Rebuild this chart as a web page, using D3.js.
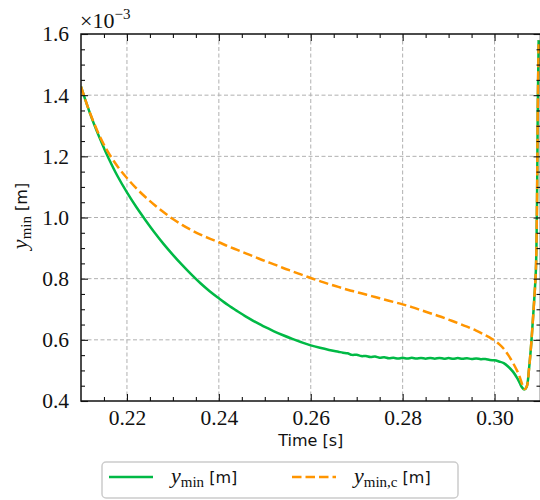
<!DOCTYPE html>
<html>
<head>
<meta charset="utf-8">
<script src="https://cdn.jsdelivr.net/npm/d3@7"></script>
<style>
  body { margin: 0; background: #fff; }
</style>
</head>
<body>
<div id="chart"></div>
<script>
// y_min curve: time [s] and value [x1e-3 m]
const tMin = [0.2100, 0.2105, 0.2110, 0.2120, 0.2130, 0.2140, 0.2150, 0.2160,
  0.2180, 0.2200, 0.2220, 0.2240, 0.2260, 0.2280, 0.2300, 0.2320, 0.2340, 0.2360,
  0.2380, 0.2400, 0.2420, 0.2440, 0.2460, 0.2480, 0.2500, 0.2520, 0.2540, 0.2560,
  0.2580, 0.2600, 0.2620, 0.2640,
  0.266, 0.267, 0.268, 0.269, 0.270, 0.271, 0.272, 0.273, 0.274, 0.275, 0.276, 0.277,
  0.278, 0.279, 0.280, 0.281, 0.282, 0.283, 0.284, 0.285, 0.286, 0.287, 0.288, 0.289,
  0.290, 0.291, 0.292, 0.293, 0.294, 0.295, 0.296, 0.297, 0.298, 0.299, 0.300,
  0.301, 0.302, 0.303, 0.304, 0.305, 0.3055, 0.306, 0.3065, 0.307, 0.3075, 0.308,
  0.3085, 0.309, 0.3092, 0.3093, 0.3094, 0.3096]
const yMin = [1.428, 1.405, 1.382, 1.339, 1.299, 1.262, 1.227, 1.194,
  1.134, 1.082, 1.035, 0.992, 0.951, 0.913, 0.878, 0.845, 0.814, 0.785,
  0.759, 0.736, 0.714, 0.694, 0.675, 0.658, 0.642, 0.628, 0.615, 0.603,
  0.592, 0.582, 0.574, 0.567,
  0.561, 0.558, 0.5562, 0.5508, 0.5512, 0.5468, 0.5472, 0.5438, 0.5452, 0.5418, 0.5432, 0.5398,
  0.5412, 0.5388, 0.5412, 0.5388, 0.5412, 0.5388, 0.5407, 0.5383, 0.5407, 0.5383, 0.5407, 0.5383,
  0.5402, 0.5378, 0.5402, 0.5378, 0.5397, 0.5373, 0.5392, 0.5368, 0.5372, 0.5338, 0.533,
  0.529, 0.524, 0.512, 0.496, 0.473, 0.458, 0.444, 0.438, 0.447, 0.505, 0.590,
  0.700, 0.830, 1.000, 1.150, 1.350, 1.580]

// y_min,c curve
const tMinC = [0.2100, 0.2105, 0.2110, 0.2120, 0.2130, 0.2140, 0.2150, 0.2160,
  0.2180, 0.2200, 0.2220, 0.2240, 0.2260, 0.2280, 0.2300, 0.2320, 0.2340, 0.2360,
  0.2380, 0.2400, 0.2420, 0.2440, 0.2460, 0.2480, 0.2500, 0.2520, 0.2540, 0.2560,
  0.2580, 0.2600, 0.2620, 0.2640, 0.2660, 0.2680, 0.2700, 0.2720, 0.2740, 0.2760,
  0.2780, 0.2800, 0.2820, 0.2840, 0.2860, 0.2880, 0.2900, 0.2920, 0.2940, 0.2960,
  0.2980, 0.2990, 0.3000, 0.3010, 0.3020, 0.3030, 0.3040, 0.3050, 0.3055, 0.3060,
  0.3065, 0.3070, 0.3075, 0.3080, 0.3085, 0.3090, 0.3092, 0.3093, 0.3094, 0.3096]
const yMinC = [1.428, 1.405, 1.382, 1.340, 1.303, 1.268, 1.238, 1.211,
  1.166, 1.129, 1.096, 1.067, 1.041, 1.017, 0.995, 0.976, 0.959, 0.944,
  0.931, 0.919, 0.906, 0.894, 0.882, 0.870, 0.858, 0.847, 0.835, 0.824,
  0.813, 0.802, 0.792, 0.782, 0.773, 0.764, 0.756, 0.748, 0.740, 0.732,
  0.724, 0.716, 0.707, 0.697, 0.687, 0.677, 0.666, 0.655, 0.643, 0.630,
  0.615, 0.607, 0.598, 0.586, 0.571, 0.550, 0.525, 0.496, 0.478, 0.455,
  0.439, 0.447, 0.505, 0.590, 0.700, 0.830, 1.000, 1.150, 1.350, 1.580]

// ticks
const xTicks = [0.22, 0.24, 0.26, 0.28, 0.30]
const xMinorTicks = [0.215, 0.225, 0.23, 0.235, 0.245, 0.25, 0.255, 0.265, 0.27,
  0.275, 0.285, 0.29, 0.295, 0.305]
const yTicks = [0.4, 0.6, 0.8, 1.0, 1.2, 1.4, 1.6]
const yMinorTicks = [0.45, 0.5, 0.55, 0.65, 0.7, 0.75, 0.85, 0.9, 0.95, 1.05, 1.1,
  1.15, 1.25, 1.3, 1.35, 1.45, 1.5, 1.55]

const green = "#00B945"
const orange = "#FF9500"
const serif = "'Liberation Serif', 'DejaVu Serif', serif"
const sans = "'DejaVu Sans', sans-serif"

const width = 540
const height = 500
const pLeft = 81, pRight = 540.5, pTop = 34, pBottom = 401

const svg = d3.select("#chart")
  .append("svg")
  .attr("width", width)
  .attr("height", height)

const x = d3.scaleLinear().domain([0.21, 0.31]).range([pLeft, pRight])
const y = d3.scaleLinear().domain([0.4, 1.6]).range([pBottom, pTop])

svg.append("clipPath").attr("id", "clip")
  .append("rect")
  .attr("x", pLeft).attr("y", pTop)
  .attr("width", pRight - pLeft).attr("height", pBottom - pTop)

//grid
const grid = svg.append("g")
  .attr("stroke", "#b0b0b0")
  .attr("stroke-width", 1)
  .attr("stroke-dasharray", "4,2.5")
grid.selectAll(".gx")
  .data(xTicks)
  .join("line")
  .attr("x1", d => x(d)).attr("x2", d => x(d))
  .attr("y1", pTop).attr("y2", pBottom)
grid.selectAll(".gy")
  .data(yTicks.slice(1, -1))
  .join("line")
  .attr("x1", pLeft).attr("x2", pRight)
  .attr("y1", d => y(d)).attr("y2", d => y(d))

//lines
const plot = svg.append("g").attr("clip-path", "url(#clip)")
const line = d3.line()
  .x(d => x(d[0]))
  .y(d => y(d[1]))
  .curve(d3.curveCatmullRom.alpha(0.5))

plot.append("path")
  .datum(tMin.map((t, i) => [t, yMin[i]]))
  .attr("d", line)
  .attr("fill", "none")
  .attr("stroke", green)
  .attr("stroke-width", 2.5)

plot.append("path")
  .datum(tMinC.map((t, i) => [t, yMinC[i]]))
  .attr("d", line)
  .attr("fill", "none")
  .attr("stroke", orange)
  .attr("stroke-width", 2.5)
  .attr("stroke-dasharray", "9.5,4")

//axes, ticks pointing inward on all four sides
function styleAxis(g) {
  g.select(".domain").remove()
  g.selectAll(".tick line").attr("stroke", "#111").attr("stroke-width", 1.1)
  g.selectAll("text")
    .attr("font-family", serif)
    .attr("font-size", 21.5)
    .attr("fill", "#111")
}

svg.append("g")
  .attr("transform", `translate(0,${pBottom})`)
  .call(d3.axisBottom(x).tickValues(xTicks).tickSize(-7).tickPadding(9)
    .tickFormat(d3.format(".2f")))
  .call(styleAxis)
svg.append("g")
  .attr("transform", `translate(0,${pBottom})`)
  .call(d3.axisBottom(x).tickValues(xMinorTicks).tickSize(-4).tickFormat(""))
  .call(styleAxis)
svg.append("g")
  .attr("transform", `translate(0,${pTop})`)
  .call(d3.axisTop(x).tickValues(xTicks).tickSize(-7).tickFormat(""))
  .call(styleAxis)
svg.append("g")
  .attr("transform", `translate(0,${pTop})`)
  .call(d3.axisTop(x).tickValues(xMinorTicks).tickSize(-4).tickFormat(""))
  .call(styleAxis)

svg.append("g")
  .attr("transform", `translate(${pLeft},0)`)
  .call(d3.axisLeft(y).tickValues(yTicks).tickSize(-7).tickPadding(12)
    .tickFormat(d3.format(".1f")))
  .call(styleAxis)
svg.append("g")
  .attr("transform", `translate(${pLeft},0)`)
  .call(d3.axisLeft(y).tickValues(yMinorTicks).tickSize(-4).tickFormat(""))
  .call(styleAxis)
svg.append("g")
  .attr("transform", `translate(${pRight},0)`)
  .call(d3.axisRight(y).tickValues(yTicks).tickSize(-7).tickFormat(""))
  .call(styleAxis)
svg.append("g")
  .attr("transform", `translate(${pRight},0)`)
  .call(d3.axisRight(y).tickValues(yMinorTicks).tickSize(-4).tickFormat(""))
  .call(styleAxis)

//frame
svg.append("rect")
  .attr("x", pLeft).attr("y", pTop)
  .attr("width", pRight - pLeft).attr("height", pBottom - pTop)
  .attr("fill", "none")
  .attr("stroke", "#111")
  .attr("stroke-width", 1.5)

//offset text
const offset = svg.append("text")
  .attr("x", 80).attr("y", 28)
  .attr("font-family", serif)
  .attr("fill", "#111")
offset.append("tspan").attr("font-size", 22).text("×10")
offset.append("tspan").attr("font-size", 15).attr("dy", -9).text("−3")

//axis labels
svg.append("text")
  .attr("x", (pLeft + pRight) / 2)
  .attr("y", 446)
  .attr("text-anchor", "middle")
  .attr("font-family", sans)
  .attr("font-size", 16)
  .attr("fill", "#111")
  .text("Time [s]")

const ylab = svg.append("text")
  .attr("transform", "translate(27,216) rotate(-90)")
  .attr("text-anchor", "middle")
  .attr("fill", "#111")
ylab.append("tspan").attr("font-family", serif).attr("font-style", "italic")
  .attr("font-size", 22).text("y")
ylab.append("tspan").attr("font-family", serif).attr("font-size", 15)
  .attr("dy", 4).text("min")
ylab.append("tspan").attr("font-family", sans).attr("font-size", 16)
  .attr("dy", -4).text(" [m]")

//legend
const legend = svg.append("g")
legend.append("rect")
  .attr("x", 102).attr("y", 462)
  .attr("width", 356).attr("height", 36)
  .attr("rx", 4)
  .attr("fill", "white")
  .attr("stroke", "#cccccc")
  .attr("stroke-width", 1.5)

const legendItems = [
  { x: 109, color: green, dash: null, sub: "min", textX: 171 },
  { x: 292, color: orange, dash: "9.5,4", sub: "min,c", textX: 354 }
]
legendItems.forEach(d => {
  legend.append("line")
    .attr("x1", d.x).attr("x2", d.x + 44)
    .attr("y1", 477).attr("y2", 477)
    .attr("stroke", d.color)
    .attr("stroke-width", 2.5)
    .attr("stroke-dasharray", d.dash)
  const t = legend.append("text")
    .attr("x", d.textX).attr("y", 483)
    .attr("fill", "#111")
  t.append("tspan").attr("font-family", serif).attr("font-style", "italic")
    .attr("font-size", 22).text("y")
  t.append("tspan").attr("font-family", serif).attr("font-size", 15)
    .attr("dy", 4).text(d.sub)
  t.append("tspan").attr("font-family", sans).attr("font-size", 16)
    .attr("dy", -4).text(" [m]")
})
</script>
</body>
</html>
